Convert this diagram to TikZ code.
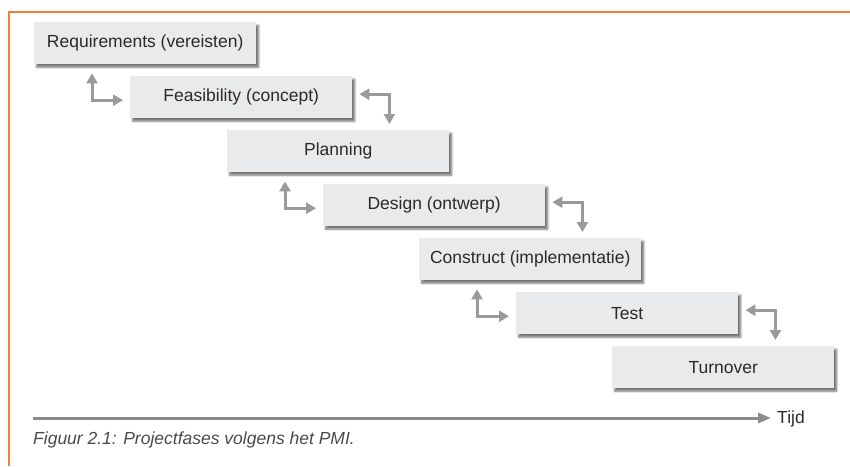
\documentclass[tikz,border=0pt]{standalone}
\usepackage{fontspec}
\setmainfont{Liberation Sans}
\usetikzlibrary{arrows.meta,calc,shadows.blur}

\definecolor{frameorange}{HTML}{F08035}
\definecolor{boxfill}{HTML}{E9EAEC}
\definecolor{arrowgray}{HTML}{9A9A9C}
\definecolor{textdark}{HTML}{2A2A2A}

\tikzset{
  labelfont/.style={font=\fontsize{17.5}{21}\selectfont},
  phase/.style={
    anchor=north west, fill=boxfill, minimum width=222pt, minimum height=42pt,
    inner sep=0pt, labelfont, text=textdark,
    blur shadow={shadow xshift=2.5pt, shadow yshift=-3pt, shadow blur steps=6,
                 shadow blur radius=2pt, shadow opacity=55}
  },
  feedback/.style={draw=arrowgray, line width=3pt,
    {Triangle[length=10pt,width=11pt]}-{Triangle[length=10pt,width=11pt]}},
  timeline/.style={draw=arrowgray!90!black, line width=3pt,
    -{Triangle[length=13pt,width=10pt]}}
}

\begin{document}
\begin{tikzpicture}[x=1pt,y=-1pt]
  \useasboundingbox (0,0) rectangle (850,466);

  % outer frame: top and left edges only
  \draw[frameorange, line width=2pt] (9,466) -- (9,12) -- (850,12);

  % phases, stepping down and to the right
  \node[phase] (req)  at (34,22)  {Requirements (vereisten)};
  \node[phase] (feas) at (130,76) {Feasibility (concept)};
  \node[phase] (plan) at (227,130) {Planning};
  \node[phase] (des)  at (323,184) {Design (ontwerp)};
  \node[phase] (cons) at (419,238) {Construct (implementatie)};
  \node[phase] (test) at (516,292) {Test};
  \node[phase] (turn) at (612,346) {Turnover};

  % elbows on the left: back up to the previous phase, on to the next one
  \draw[feedback] ($(req.south west)+(58,9)$)  |- ($(feas.west)+(-7,3)$);
  \draw[feedback] ($(plan.south west)+(58,9)$) |- ($(des.west)+(-7,3)$);
  \draw[feedback] ($(cons.south west)+(58,9)$) |- ($(test.west)+(-7,3)$);

  % elbows on the right
  \draw[feedback] ($(feas.east)+(7,-3)$) -| ($(feas.east |- plan.north)+(37,-6)$);
  \draw[feedback] ($(des.east)+(7,-3)$)  -| ($(des.east |- cons.north)+(37,-6)$);
  \draw[feedback] ($(test.east)+(7,-3)$) -| ($(test.east |- turn.north)+(37,-6)$);

  % time axis
  \coordinate (t0) at (33,418);
  \node[anchor=west, labelfont, text=textdark, inner sep=0pt] (tijd) at (777,419) {Tijd};
  \draw[timeline] (t0) -- ($(tijd.west)+(-6,-1)$);

  % caption
  \node[anchor=west, inner sep=0pt, labelfont, font=\fontsize{17.5}{21}\selectfont\itshape, text=textdark!85] (cap) at (33,440)
    {Figuur 2.1: Projectfases volgens het PMI.};
\end{tikzpicture}
\end{document}
